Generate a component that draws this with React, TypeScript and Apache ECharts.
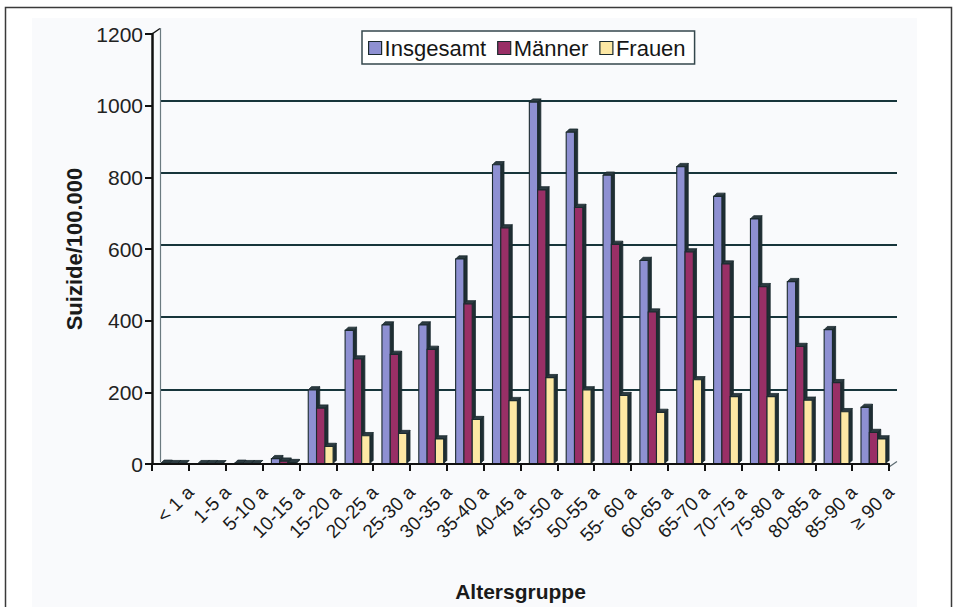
import React, { useEffect, useRef } from "react";
import * as echarts from "echarts";

// Altersgruppen (x-Achse)
const categories = [
  "< 1 a", "1-5 a", "5-10 a", "10-15 a", "15-20 a", "20-25 a", "25-30 a",
  "30-35 a", "35-40 a", "40-45 a", "45-50 a", "50-55 a", "55- 60 a",
  "60-65 a", "65-70 a", "70-75 a", "75-80 a", "80-85 a", "85-90 a", "≥ 90 a",
];

// Suizide je 100.000
const insgesamt = [2, 1, 2, 15, 207, 373, 388, 388, 572, 835, 1010, 926, 806, 568, 830, 747, 684, 509, 375, 158];
const maenner = [1, 1, 1, 8, 156, 293, 306, 320, 447, 659, 765, 716, 613, 424, 592, 558, 495, 328, 227, 88];
const frauen = [1, 0.5, 1, 4, 49, 79, 85, 70, 124, 177, 241, 207, 191, 144, 235, 188, 188, 178, 146, 70];

const seriesNames = ["Insgesamt", "Männer", "Frauen"];
const yTicks = [0, 200, 400, 600, 800, 1000, 1200];

const COLORS = ["#8e90d2", "#992f66", "#fde8a4"];
const EDGE = "#1b2a2e";
const SIDE = "#1f2e33";
const TOPFACE = "#2c3b41";
const FONT = "'Liberation Sans', Arial, Helvetica, sans-serif";

const GRID_LEFT = 152;
const GRID_TOP = 34;
const GRID_W = 737;
const GRID_H = 433;
const DEPTH_X = 8;
const DEPTH_Y = 5.5;
const LABEL_SHIFT = 20;

function barRenderer(slot: number) {
  return (params: any, api: any) => {
    const idx = api.value(0);
    const val = api.value(1);
    const top = api.coord([idx, val]);
    const base = api.coord([idx, 0]);
    const band = api.size([1, 0])[0];
    const w = band * 0.225;
    const d = 3.2;
    const x = top[0] - band / 2 + band * 0.24 + slot * w;
    const yT = top[1];
    const yB = base[1] - 0.5;
    return {
      type: "group",
      children: [
        {
          type: "polygon",
          shape: { points: [[x + w, yT], [x + w + d, yT - d], [x + w + d, yB - d], [x + w, yB]] },
          style: { fill: SIDE, stroke: EDGE, lineWidth: 0.8 },
        },
        {
          type: "polygon",
          shape: { points: [[x, yT], [x + d, yT - d], [x + w + d, yT - d], [x + w, yT]] },
          style: { fill: TOPFACE, stroke: EDGE, lineWidth: 0.8 },
        },
        {
          type: "rect",
          shape: { x, y: yT, width: w, height: Math.max(yB - yT, 0) },
          style: { fill: api.visual("color"), stroke: EDGE, lineWidth: 1.1 },
        },
      ],
    };
  };
}

export default function App() {
  const ref = useRef<HTMLDivElement>(null);

  useEffect(() => {
    if (!ref.current) return;
    const chart = echarts.init(ref.current, null, { renderer: "svg" });
    const values = [insgesamt, maenner, frauen];

    const option: any = {
      animation: false,
      backgroundColor: "#ffffff",
      textStyle: { fontFamily: FONT },
      graphic: [
        {
          type: "rect",
          z: -10,
          shape: { x: 32, y: 18, width: 885, height: 600 },
          style: { fill: "#f9fafc" },
        },
        {
          type: "rect",
          z: -9,
          shape: { x: 5.5, y: 7.5, width: 946, height: 610 },
          style: { fill: "none", stroke: "#3a3a3a", lineWidth: 1.5 },
        },
        {
          type: "line",
          shape: { x1: GRID_LEFT, y1: GRID_TOP, x2: GRID_LEFT + DEPTH_X, y2: GRID_TOP - DEPTH_Y },
          style: { stroke: "#111", lineWidth: 1.5 },
        },
        {
          type: "line",
          shape: {
            x1: GRID_LEFT + GRID_W, y1: GRID_TOP + GRID_H,
            x2: GRID_LEFT + GRID_W + DEPTH_X, y2: GRID_TOP + GRID_H - DEPTH_Y,
          },
          style: { stroke: "#5b6a70", lineWidth: 1.2 },
        },
      ],
      legend: {
        data: seriesNames.map((n, i) => ({
          name: n,
          icon: "rect",
          itemStyle: { color: COLORS[i], borderColor: "#1b2a2e", borderWidth: 1.2 },
        })),
        left: 362,
        top: 31,
        orient: "horizontal",
        itemWidth: 13,
        itemHeight: 13,
        itemGap: 11,
        padding: [6, 9, 5, 6],
        backgroundColor: "#ffffff",
        borderColor: "#34474c",
        borderWidth: 1.5,
        textStyle: { fontSize: 22, color: "#161616", fontFamily: FONT, padding: [0, 0, 0, -2] },
      },
      grid: [
        { left: GRID_LEFT, top: GRID_TOP, width: GRID_W, height: GRID_H },
        { left: GRID_LEFT + DEPTH_X, top: GRID_TOP - DEPTH_Y, width: GRID_W, height: GRID_H },
        { left: GRID_LEFT + LABEL_SHIFT, top: GRID_TOP, width: GRID_W, height: GRID_H },
      ],
      xAxis: [
        {
          gridIndex: 0,
          type: "category",
          data: categories,
          boundaryGap: true,
          name: "Altersgruppe",
          nameLocation: "middle",
          nameGap: 117,
          nameTextStyle: { fontSize: 21, fontWeight: "bold", color: "#1a1a1a", fontFamily: FONT },
          axisLine: { show: true, lineStyle: { color: "#111", width: 2 } },
          axisTick: { show: true, length: 7, interval: 0, lineStyle: { color: "#111", width: 2 } },
          axisLabel: { show: false },
          splitLine: { show: false },
          z: 5,
        },
        { gridIndex: 1, type: "value", show: false, min: 0, max: 1 },
        {
          gridIndex: 2,
          type: "category",
          data: categories,
          boundaryGap: true,
          axisLine: { show: false },
          axisTick: { show: false },
          axisLabel: {
            show: true,
            interval: 0,
            rotate: 45,
            margin: 22,
            fontSize: 19,
            color: "#1a1a1a",
            fontFamily: FONT,
          },
        },
      ],
      yAxis: [
        {
          gridIndex: 0,
          type: "value",
          min: yTicks[0],
          max: yTicks[yTicks.length - 1],
          interval: 200,
          name: "Suizide/100.000",
          nameLocation: "middle",
          nameRotate: 90,
          nameGap: 63,
          nameTextStyle: { fontSize: 22, fontWeight: "bold", color: "#1a1a1a", fontFamily: FONT },
          axisLine: { show: true, lineStyle: { color: "#111", width: 2.5 } },
          axisTick: { show: true, length: 7, lineStyle: { color: "#111", width: 2 } },
          axisLabel: {
            fontSize: 21,
            color: "#222",
            margin: 9,
            fontFamily: FONT,
            formatter: (v: number) => String(v),
          },
          splitLine: { show: false },
          z: 5,
        },
        {
          gridIndex: 1,
          type: "value",
          min: yTicks[0],
          max: yTicks[yTicks.length - 1],
          interval: 200,
          axisLine: { show: true, lineStyle: { color: "#6b7a80", width: 1.2 } },
          axisTick: { show: false },
          axisLabel: { show: false },
          splitLine: {
            show: true,
            showMinLine: false,
            showMaxLine: false,
            lineStyle: { color: "#17353b", width: 1.8 },
          },
        },
        { gridIndex: 2, type: "value", show: false, min: 0, max: 1 },
      ],
      series: seriesNames.map((name, s) => ({
        name,
        type: "custom",
        xAxisIndex: 0,
        yAxisIndex: 0,
        renderItem: barRenderer(s),
        itemStyle: { color: COLORS[s] },
        encode: { x: 0, y: 1 },
        clip: false,
        z: 3,
        data: values[s].map((v, i) => [i, v]),
      })),
    };

    chart.setOption(option);
    return () => chart.dispose();
  }, []);

  return (
    <div
      ref={ref}
      style={{ position: "absolute", left: 0, top: 0, width: 962, height: 607 }}
    />
  );
}
